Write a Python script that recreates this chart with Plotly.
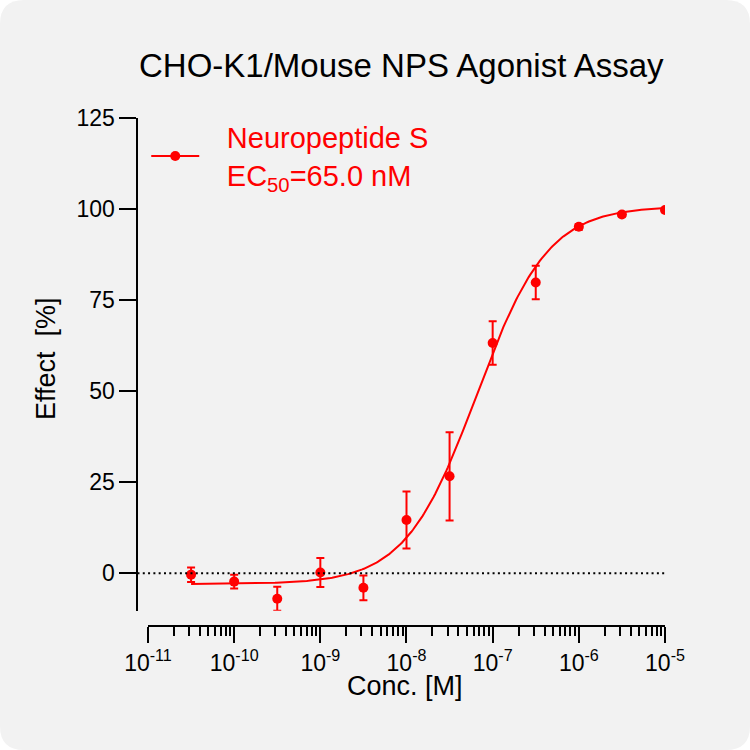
import numpy as np
import plotly.graph_objects as go

# measured points (mean +/- error)
conc = [3.162e-11, 1e-10, 3.162e-10, 1e-9, 3.162e-9, 1e-8, 3.162e-8, 1e-7, 3.162e-7, 1e-6, 3.162e-6, 1e-5]
effect = [-0.4, -2.3, -7.0, 0.2, -4.0, 14.6, 26.6, 63.2, 79.8, 95.1, 98.5, 99.7]
err = [2.0, 1.9, 3.3, 4.0, 3.4, 7.8, 12.1, 6.0, 4.6, 0.8, 0.6, 0.5]

# 4PL fit parameters
fit_bottom = -3.0
fit_top = 100.8
fit_ec50 = 6.5e-8
fit_hill = 1.05

x_tickvals = [1e-11, 1e-10, 1e-9, 1e-8, 1e-7, 1e-6, 1e-5]
x_ticktext = ["10<sup>-11</sup>", "10<sup>-10</sup>", "10<sup>-9</sup>", "10<sup>-8</sup>",
              "10<sup>-7</sup>", "10<sup>-6</sup>", "10<sup>-5</sup>"]
y_tickvals = [0, 25, 50, 75, 100, 125]

RED = "#ff0000"
FONT = "Arial, Liberation Sans, sans-serif"


def main():
    xs = np.logspace(np.log10(conc[0]), np.log10(conc[-1]), 300)
    ys = fit_bottom + (fit_top - fit_bottom) / (1 + (fit_ec50 / xs) ** fit_hill)

    fig = go.Figure()
    fig.add_trace(go.Scatter(x=xs, y=ys, mode="lines", line=dict(color=RED, width=2),
                             showlegend=False, hoverinfo="skip"))
    fig.add_trace(go.Scatter(
        x=conc, y=effect, mode="markers",
        marker=dict(color=RED, size=10),
        error_y=dict(type="data", array=err, color=RED, thickness=2, width=4),
        showlegend=False,
    ))
    # legend entry (line + marker); en space + nbsp to widen the gap before the text
    pad = "\u2002\u00a0"
    fig.add_trace(go.Scatter(
        x=[None], y=[None], mode="lines+markers",
        name=f"{pad}Neuropeptide S<br>{pad}EC<sub>50</sub>=65.0 nM",
        line=dict(color=RED, width=2), marker=dict(color=RED, size=10),
    ))

    r = 0.032
    bg_path = (f"M {r},0 L {1-r},0 Q 1,0 1,{r} L 1,{1-r} Q 1,1 {1-r},1 "
               f"L {r},1 Q 0,1 0,{1-r} L 0,{r} Q 0,0 {r},0 Z")

    fig.update_layout(
        width=750, height=750,
        margin=dict(l=0, r=0, t=0, b=0, pad=0, autoexpand=False),
        paper_bgcolor="white",
        plot_bgcolor="rgba(0,0,0,0)",
        font=dict(family=FONT, color="black"),
        shapes=[
            dict(type="path", path=bg_path, xref="paper", yref="paper",
                 fillcolor="#f2f2f2", line=dict(width=0), layer="below"),
            dict(type="line", xref="paper", yref="y", x0=0.1833, x1=0.8867, y0=0, y1=0,
                 line=dict(color="black", width=2, dash="2px,3.3px")),
        ],
        xaxis=dict(
            type="log", range=[-11, -5], domain=[0.19733, 0.88667],
            anchor="free", position=0.1647, automargin=False,
            showline=True, linecolor="black", linewidth=2,
            ticks="outside", ticklen=16, tickwidth=2, tickcolor="black",
            tickvals=x_tickvals, ticktext=x_ticktext,
            tickfont=dict(size=23),
            minor=dict(dtick="D1", ticks="outside", ticklen=9, tickwidth=2, tickcolor="black", showgrid=False),
            showgrid=False, zeroline=False,
        ),
        yaxis=dict(
            range=[-10.3, 125], domain=[0.1857, 0.8428],
            anchor="free", position=0.1833, automargin=False,
            showline=True, linecolor="black", linewidth=2,
            ticks="outside", ticklen=17, tickwidth=2, tickcolor="black",
            tickvals=y_tickvals, tickfont=dict(size=23),
            showgrid=False, zeroline=False,
        ),
        legend=dict(x=0.195, y=0.851, xanchor="left", yanchor="top",
                    bgcolor="rgba(0,0,0,0)", font=dict(size=29, color=RED),
                    itemwidth=48),
        annotations=[
            dict(text="CHO-K1/Mouse NPS Agonist Assay", xref="paper", yref="paper",
                 x=0.535, y=0.9133, xanchor="center", yanchor="middle",
                 showarrow=False, font=dict(size=33)),
            dict(text="Conc. [M]", xref="paper", yref="paper",
                 x=0.54, y=0.0853, xanchor="center", yanchor="middle",
                 showarrow=False, font=dict(size=27)),
            dict(text="Effect  [%]", xref="paper", yref="paper", textangle=-90,
                 x=0.0613, y=0.5227, xanchor="center", yanchor="middle",
                 showarrow=False, font=dict(size=27)),
        ],
    )

    fig.write_html("out.html", config={"displayModeBar": False},
                   post_script="document.body.style.margin='0';")


if __name__ == "__main__":
    main()
